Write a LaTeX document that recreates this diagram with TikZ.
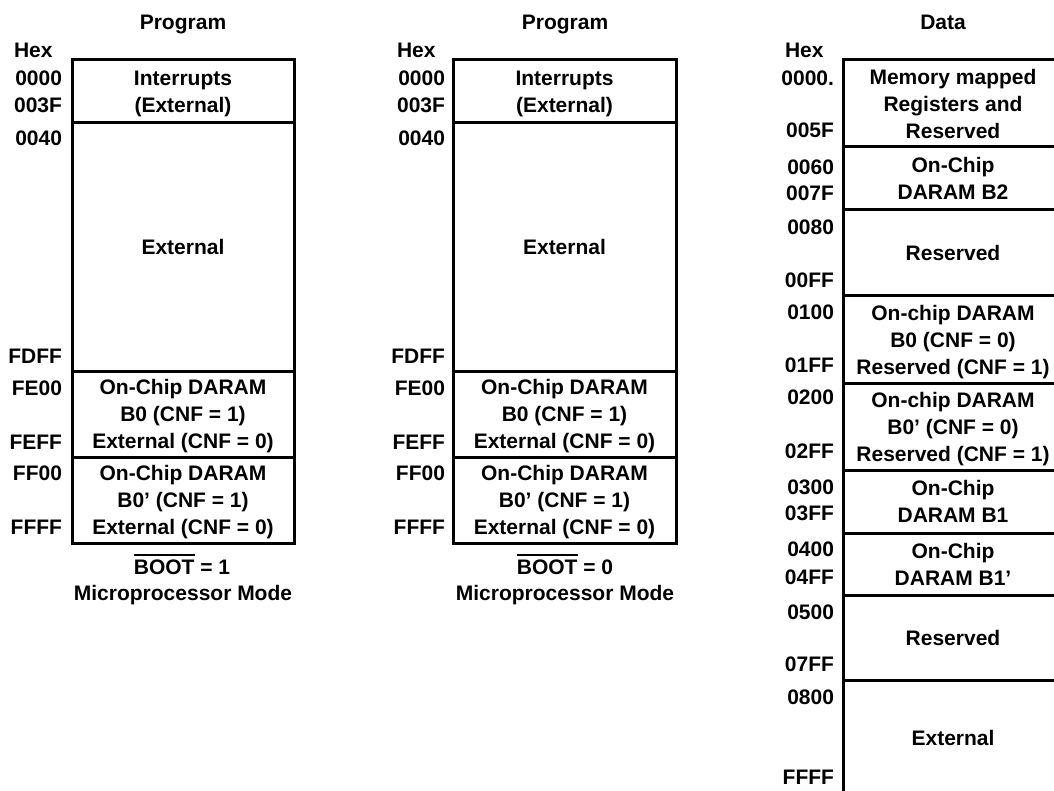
\documentclass[tikz,border=0pt]{standalone}
\usepackage{fontspec}
\setmainfont{Liberation Sans}
\newcommand\myovl[1]{\leavevmode\vbox{\hrule height 2pt\kern 4pt\hbox{#1}}}
\begin{document}
\begin{tikzpicture}[x=1pt,y=-1pt,
  every node/.style={font=\fontsize{21}{27}\selectfont\bfseries, inner sep=0pt, outer sep=0pt},
  region/.style={draw, line width=3pt, rectangle, align=center, text depth=0pt},
  addr/.style={anchor=base east},
  hdr/.style={anchor=base}]
\useasboundingbox (0,0) rectangle (1054,791);
\clip (0,0) rectangle (1054,791);

% ---------- Column 1 ----------
\node[hdr] (h1) at (183,29.5) {Program};
\node[anchor=base west] (hex1) at (14,57.5) {Hex};
\node[region, minimum width=222pt, minimum height=63pt] (a1) at (183,91.5) {Interrupts\\(External)};
\node[region, minimum width=222pt, minimum height=248pt] (b1) at (183,247) {External};
\node[region, minimum width=222pt, minimum height=86pt] (c1) at (183,414) {On-Chip DARAM\\B0 (CNF = 1)\\External (CNF = 0)};
\node[region, minimum width=222pt, minimum height=86pt] (d1) at (183,500) {On-Chip DARAM\\B0’ (CNF = 1)\\External (CNF = 0)};
\node[addr] (x1a) at (62,85.5) {0000};
\node[addr] (x1b) at (62,112.5) {003F};
\node[addr] (x1c) at (62,145.5) {0040};
\node[addr] (x1d) at (62,363.5) {FDFF};
\node[addr] (x1e) at (62,395.5) {FE00};
\node[addr] (x1f) at (62,449.5) {FEFF};
\node[addr] (x1g) at (62,480.5) {FF00};
\node[addr] (x1h) at (62,534.5) {FFFF};
\node[hdr] (boot1) at (182,574.5) {\myovl{BOOT} = 1};
\node[hdr] (mode1) at (183,600.5) {Microprocessor Mode};

% ---------- Column 2 ----------
\node[hdr] (h2) at (565,29.5) {Program};
\node[anchor=base west] (hex2) at (397,57.5) {Hex};
\node[region, minimum width=223pt, minimum height=63pt] (a2) at (564.5,91.5) {Interrupts\\(External)};
\node[region, minimum width=223pt, minimum height=248pt] (b2) at (564.5,247) {External};
\node[region, minimum width=223pt, minimum height=86pt] (c2) at (564.5,414) {On-Chip DARAM\\B0 (CNF = 1)\\External (CNF = 0)};
\node[region, minimum width=223pt, minimum height=86pt] (d2) at (564.5,500) {On-Chip DARAM\\B0’ (CNF = 1)\\External (CNF = 0)};
\node[addr] (x2a) at (445,85.5) {0000};
\node[addr] (x2b) at (445,112.5) {003F};
\node[addr] (x2c) at (445,145.5) {0040};
\node[addr] (x2d) at (445,363.5) {FDFF};
\node[addr] (x2e) at (445,395.5) {FE00};
\node[addr] (x2f) at (445,449.5) {FEFF};
\node[addr] (x2g) at (445,480.5) {FF00};
\node[addr] (x2h) at (445,534.5) {FFFF};
\node[hdr] (boot2) at (565,574.5) {\myovl{BOOT} = 0};
\node[hdr] (mode2) at (565,600.5) {Microprocessor Mode};

% ---------- Column 3 (Data) ----------
\node[hdr] (h3) at (943,29.5) {Data};
\node[anchor=base west] (hex3) at (785,57.5) {Hex};
\node[region, minimum width=220pt, minimum height=87pt] (r1) at (953,103.5) {Memory mapped\\Registers and\\Reserved};
\node[region, minimum width=220pt, minimum height=63pt] (r2) at (953,178.5) {On-Chip\\DARAM B2};
\node[region, minimum width=220pt, minimum height=86pt] (r3) at (953,253) {Reserved};
\node[region, minimum width=220pt, minimum height=87pt] (r4) at (953,339.5) {On-chip DARAM\\B0 (CNF = 0)\\Reserved (CNF = 1)};
\node[region, minimum width=220pt, minimum height=87pt] (r5) at (953,426.5) {On-chip DARAM\\B0’ (CNF = 0)\\Reserved (CNF = 1)};
\node[region, minimum width=220pt, minimum height=63pt] (r6) at (953,501.5) {On-Chip\\DARAM B1};
\node[region, minimum width=220pt, minimum height=62pt] (r7) at (953,564) {On-Chip\\DARAM B1’};
\node[region, minimum width=220pt, minimum height=85pt] (r8) at (953,637.5) {Reserved};
\node[region, minimum width=220pt, minimum height=116pt] (r9) at (953,738) {External};
\node[addr] (y01) at (834,85.5) {0000.};
\node[addr] (y02) at (834,137.5) {005F};
\node[addr] (y03) at (834,174.5) {0060};
\node[addr] (y04) at (834,200.5) {007F};
\node[addr] (y05) at (834,234.5) {0080};
\node[addr] (y06) at (834,287.5) {00FF};
\node[addr] (y07) at (834,319.5) {0100};
\node[addr] (y08) at (834,372.5) {01FF};
\node[addr] (y09) at (834,404.5) {0200};
\node[addr] (y10) at (834,458.5) {02FF};
\node[addr] (y11) at (834,494.5) {0300};
\node[addr] (y12) at (834,520.5) {03FF};
\node[addr] (y13) at (834,556.5) {0400};
\node[addr] (y14) at (834,584.5) {04FF};
\node[addr] (y15) at (834,619.5) {0500};
\node[addr] (y16) at (834,671.5) {07FF};
\node[addr] (y17) at (834,704.5) {0800};
\node[addr] (y18) at (834,784.5) {FFFF};
\end{tikzpicture}
\end{document}
